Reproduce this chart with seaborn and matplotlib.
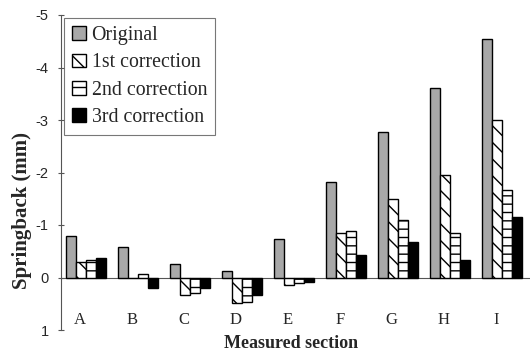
import numpy as np
import pandas as pd
import matplotlib
matplotlib.use("Agg")
import matplotlib.pyplot as plt
import seaborn as sns

# ─── DATA ────────────────────────────────────────────────────────────────────
sections = ["A", "B", "C", "D", "E", "F", "G", "H", "I"]
series = ["Original", "1st correction", "2nd correction", "3rd correction"]
original = [-0.80, -0.59, -0.26, -0.12, -0.73, -1.81, -2.78, -3.61, -4.54]
first    = [-0.30,  0.00,  0.33,  0.49,  0.14, -0.85, -1.50, -1.96, -3.00]
second   = [-0.33, -0.07,  0.30,  0.47,  0.11, -0.88, -1.09, -0.85, -1.66]
third    = [-0.38,  0.20,  0.20,  0.34,  0.08, -0.42, -0.67, -0.34, -1.16]

df = pd.DataFrame({
    "Section": sections * 4,
    "Series": np.repeat(series, len(sections)),
    "Springback": original + first + second + third,
})

# ─── STYLE ───────────────────────────────────────────────────────────────────
sns.set_style("white")
plt.rcParams.update({
    "axes.unicode_minus": False,
    "hatch.linewidth": 1.0,
    "font.family": ["Liberation Serif", "DejaVu Serif"],
})

fig = plt.figure(figsize=(5.3, 3.57), dpi=100)
ax = fig.add_axes([61 / 530, 27 / 357, 469 / 530, 315 / 357])

sns.barplot(data=df, x="Section", y="Springback", hue="Series",
            hue_order=series, order=sections, width=0.78, ax=ax,
            legend=False, errorbar=None, saturation=1)

styles = [
    dict(facecolor="#a8a8a8", hatch=""),
    dict(facecolor="white", hatch="\\\\"),
    dict(facecolor="white", hatch="--"),
    dict(facecolor="black", hatch=""),
]
for cont, st in zip(ax.containers, styles):
    for bar in cont:
        bar.set_facecolor(st["facecolor"])
        bar.set_hatch(st["hatch"])
        bar.set_edgecolor("black")
        bar.set_linewidth(1.0)

ax.axhline(0, color="#555555", lw=0.8, zorder=0)

ax.set_ylim(1, -5)
ax.set_xlim(-0.48, 8.54)
ax.set_yticks(range(-5, 2))
ax.set_yticklabels([str(v) for v in range(-5, 2)],
                   family=["Liberation Sans"], fontsize=10.5)
ax.tick_params(axis="y", direction="inout", length=4, width=0.8,
               color="#555555", pad=7, left=True)

ax.set_xticks(np.arange(len(sections)) - 0.12)
ax.set_xticklabels(sections, fontsize=12)
ax.tick_params(axis="x", length=0, pad=-13)

for side in ["top", "right", "bottom"]:
    ax.spines[side].set_visible(False)
ax.spines["left"].set_color("#555555")
ax.spines["left"].set_linewidth(0.8)

ax.set_xlabel("Measured section", fontsize=13, fontweight="bold")
ax.xaxis.set_label_coords(0.49, -0.015)
ax.set_ylabel("Springback (mm)", fontsize=15, fontweight="bold")
ax.yaxis.set_label_coords(-0.062, 0.38)

leg = ax.legend(handles=ax.containers, labels=series, loc="upper left",
                bbox_to_anchor=(0.006, 0.99), fontsize=14.3,
                handlelength=0.7, handleheight=0.7, handletextpad=0.3,
                labelspacing=0.42, borderpad=0.4, fancybox=False,
                frameon=True, borderaxespad=0)
leg.get_frame().set_edgecolor("#555555")
leg.get_frame().set_linewidth(0.8)

fig.savefig("out.png", dpi=100)
plt.close(fig)
